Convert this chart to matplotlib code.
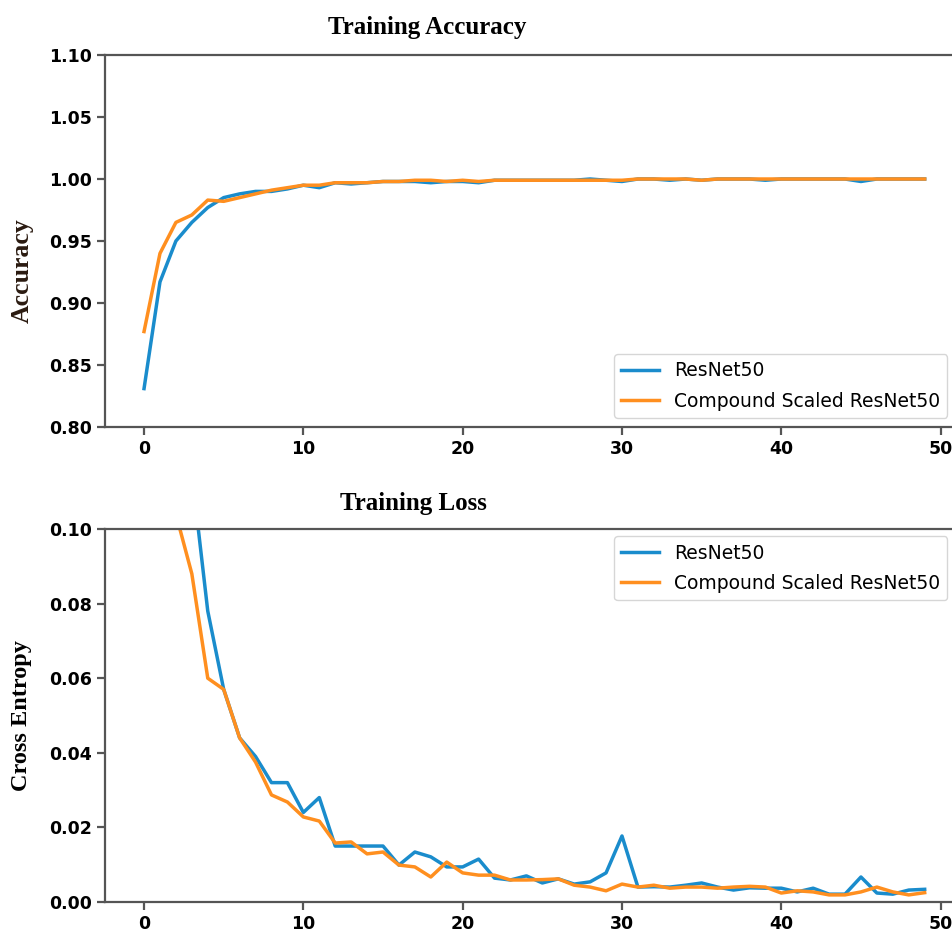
import numpy as np
import matplotlib.pyplot as plt

# Epochs and values
epochs = np.arange(50)

acc_resnet = [0.831, 0.917, 0.950, 0.965, 0.977, 0.985, 0.988, 0.990, 0.990, 0.992,
              0.995, 0.993, 0.997, 0.996, 0.997, 0.998, 0.998, 0.998, 0.997, 0.998,
              0.998, 0.997, 0.999, 0.999, 0.999, 0.999, 0.999, 0.999, 1.000, 0.999,
              0.998, 1.000, 1.000, 0.999, 1.000, 0.999, 1.000, 1.000, 1.000, 0.999,
              1.000, 1.000, 1.000, 1.000, 1.000, 0.998, 1.000, 1.000, 1.000, 1.000]
acc_compound = [0.877, 0.940, 0.965, 0.971, 0.983, 0.982, 0.985, 0.988, 0.991, 0.993,
                0.995, 0.995, 0.997, 0.997, 0.997, 0.998, 0.998, 0.999, 0.999, 0.998,
                0.999, 0.998, 0.999, 0.999, 0.999, 0.999, 0.999, 0.999, 0.999, 0.999,
                0.999, 1.000, 1.000, 1.000, 1.000, 0.999, 1.000, 1.000, 1.000, 1.000,
                1.000, 1.000, 1.000, 1.000, 1.000, 1.000, 1.000, 1.000, 1.000, 1.000]

loss_resnet = [0.300, 0.200, 0.140, 0.115, 0.078, 0.057, 0.044, 0.039, 0.032, 0.032,
               0.024, 0.028, 0.015, 0.015, 0.015, 0.015, 0.0099, 0.0134, 0.0121, 0.0094,
               0.0094, 0.0115, 0.0064, 0.0059, 0.0070, 0.0051, 0.0062, 0.0048, 0.0054, 0.0078,
               0.0177, 0.0040, 0.0041, 0.0040, 0.0045, 0.0051, 0.0040, 0.0032, 0.0038, 0.0037,
               0.0037, 0.0027, 0.0037, 0.0021, 0.0021, 0.0067, 0.0024, 0.0021, 0.0032, 0.0034]
loss_compound = [0.250, 0.150, 0.104, 0.088, 0.060, 0.057, 0.044, 0.0375, 0.0287, 0.0268,
                 0.0228, 0.0217, 0.0158, 0.0161, 0.0129, 0.0134, 0.0099, 0.0094, 0.0067, 0.0107,
                 0.0078, 0.0072, 0.0072, 0.0059, 0.0059, 0.0060, 0.0062, 0.0045, 0.0040, 0.0030,
                 0.0048, 0.0040, 0.0045, 0.0037, 0.0040, 0.0040, 0.0037, 0.0040, 0.0042, 0.0040,
                 0.0024, 0.0030, 0.0027, 0.0019, 0.0019, 0.0027, 0.0040, 0.0027, 0.0019, 0.0025]

labels = ['ResNet50', 'Compound Scaled ResNet50']
blue = '#1a8ccc'
orange = '#ff8f1f'

fig = plt.figure(figsize=(9.52, 9.32), dpi=100)

ax1 = fig.add_axes([0.1103, 0.5418, 0.902, 0.3992])
ax2 = fig.add_axes([0.1103, 0.0322, 0.902, 0.4002])

ax1.plot(epochs, acc_resnet, color=blue, lw=2.5, label=labels[0])
ax1.plot(epochs, acc_compound, color=orange, lw=2.5, label=labels[1])
ax1.set_ylim(0.80, 1.10)
ax1.set_yticks([0.80, 0.85, 0.90, 0.95, 1.00, 1.05, 1.10])
ax1.legend(loc='lower right', bbox_to_anchor=(0.981, 0.024), borderaxespad=0,
           fontsize=13.5, labelspacing=0.6)

ax2.plot(epochs, loss_resnet, color=blue, lw=2.5, label=labels[0])
ax2.plot(epochs, loss_compound, color=orange, lw=2.5, label=labels[1])
ax2.set_ylim(0.0, 0.10)
ax2.set_yticks([0.00, 0.02, 0.04, 0.06, 0.08, 0.10])
ax2.legend(loc='upper right', bbox_to_anchor=(0.981, 0.981), borderaxespad=0,
           fontsize=13.5, labelspacing=0.6)

for ax in (ax1, ax2):
    ax.set_xlim(-2.45, 51.45)
    ax.set_xticks([0, 10, 20, 30, 40, 50])
    for s in ax.spines.values():
        s.set_color('#555555')
        s.set_linewidth(1.6)
    ax.tick_params(colors='#555555', width=1.6, length=6, labelcolor='black', labelsize=12.5)
    for lab in ax.get_xticklabels() + ax.get_yticklabels():
        lab.set_fontweight('bold')

fig.text(0.4485, 0.970, 'Training Accuracy', family='Liberation Serif', fontweight='bold',
         fontsize=18, ha='center', va='center')
fig.text(0.4340, 0.4603, 'Training Loss', family='Liberation Serif', fontweight='bold',
         fontsize=18, ha='center', va='center')
fig.text(0.023, 0.710, 'Accuracy', family='Liberation Serif', fontweight='bold',
         fontsize=18.5, rotation=90, ha='center', va='center', color='#2a1a10')
fig.text(0.023, 0.232, 'Cross Entropy', family='Liberation Serif', fontweight='bold',
         fontsize=17.5, rotation=90, ha='center', va='center')

plt.savefig('out.png', dpi=100)
